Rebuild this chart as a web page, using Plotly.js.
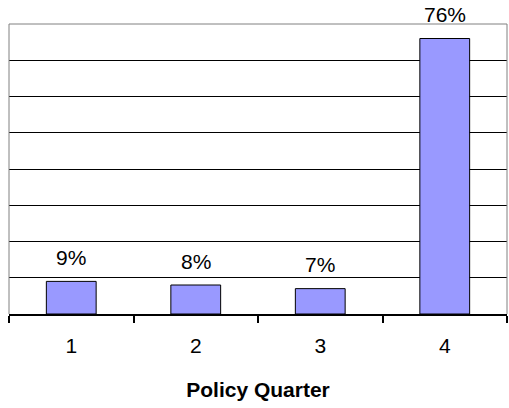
<!DOCTYPE html>
<html>
<head>
<meta charset="utf-8">
<script src="https://cdn.plot.ly/plotly-3.0.1.min.js"></script>
<style>
  html, body { margin: 0; padding: 0; background: #fff; }
  #chart { width: 509px; height: 408px; }
</style>
</head>
<body>
<div id="chart"></div>
<script>
// Share of claims by policy quarter
const quarters = ['1', '2', '3', '4'];
const shares = [0.09, 0.08, 0.07, 0.76];
const axisTitle = 'Policy Quarter';

const FONT = 'Liberation Sans, Arial, sans-serif';
const SIZE = 21;

const trace = {
  type: 'bar',
  x: quarters,
  y: shares,
  marker: { color: '#9999FF', line: { color: '#000000', width: 1 } },
  hoverinfo: 'skip'
};

// Percentage labels above each bar (x given as category index)
const labels = quarters.map((q, i) => ({
  x: i,
  y: shares[i],
  xref: 'x',
  yref: 'y',
  text: Math.round(shares[i] * 100) + '%',
  showarrow: false,
  yanchor: 'middle',
  yshift: 24,
  font: { family: FONT, size: SIZE, color: '#000' }
}));

const layout = {
  width: 509,
  height: 408,
  margin: { l: 9, r: 2, t: 24, b: 94 },
  paper_bgcolor: '#fff',
  plot_bgcolor: '#fff',
  showlegend: false,
  bargap: 0.6,
  font: { family: FONT, color: '#000' },
  xaxis: {
    type: 'category',
    range: [-0.5, quarters.length - 0.5],
    autorange: false,
    showline: true,
    linecolor: '#000',
    linewidth: 2,
    ticks: 'outside',
    tickson: 'boundaries',
    ticklen: 7,
    tickwidth: 2,
    tickcolor: '#000',
    showgrid: false,
    tickfont: { family: FONT, size: SIZE, color: '#000' },
    ticklabelstandoff: 12,
    title: {
      text: axisTitle,
      font: { family: FONT, size: SIZE, color: '#000', weight: 'bold' },
      standoff: 26
    }
  },
  yaxis: {
    range: [0, 0.8],
    autorange: false,
    dtick: 0.1,
    tick0: 0,
    showgrid: true,
    gridcolor: '#000',
    gridwidth: 1,
    zeroline: false,
    showticklabels: false,
    ticks: '',
    showline: false
  },
  // grey frame on the left, top and right of the plot area
  shapes: [{
    type: 'path',
    xref: 'paper',
    yref: 'paper',
    path: 'M 0 0 L 0 1 L 1 1 L 1 0',
    line: { color: '#808080', width: 1 },
    layer: 'above'
  }],
  annotations: labels
};

Plotly.newPlot('chart', [trace], layout, { staticPlot: true, displayModeBar: false });
</script>
</body>
</html>
